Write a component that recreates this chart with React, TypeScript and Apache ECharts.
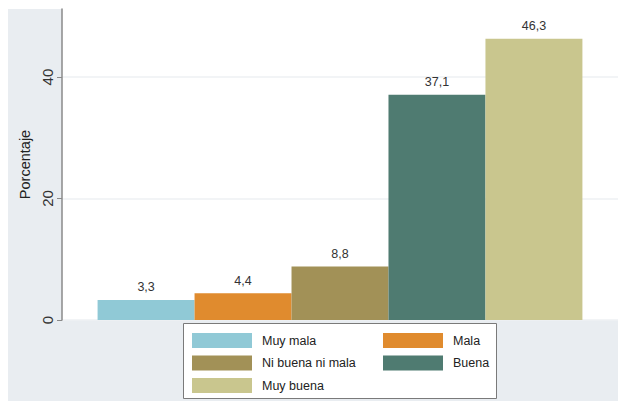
import React, { useEffect, useRef } from "react";
import * as echarts from "echarts";

const categories = ["Muy mala", "Mala", "Ni buena ni mala", "Buena", "Muy buena"];
const values = [3.3, 4.4, 8.8, 37.1, 46.3];
const colors = ["#90c9d6", "#e08b2e", "#a29157", "#4f7b71", "#c9c68e"];
const yTicks = [0, 20, 40];
const legendCol1 = ["Muy mala", "Ni buena ni mala", "Muy buena"];
const legendCol2 = ["Mala", "Buena"];

const FONT = "Liberation Sans, Arial, sans-serif";

export default function App() {
  const ref = useRef<HTMLDivElement>(null);
  useEffect(() => {
    if (!ref.current) return;
    const chart = echarts.init(ref.current, null, { renderer: "svg" });
    const legendBase = {
      orient: "vertical" as const,
      top: 333,
      itemWidth: 60,
      itemHeight: 15,
      itemGap: 7.5,
      padding: 0,
      selectedMode: false,
      icon: "rect",
      textStyle: { fontSize: 12.5, color: "#222", fontFamily: FONT, padding: [0, 0, 0, 5] },
    };
    chart.setOption({
      animation: false,
      backgroundColor: "#e9edf1",
      textStyle: { fontFamily: FONT },
      grid: {
        left: 62,
        top: 9,
        right: 0,
        bottom: 81,
        show: true,
        backgroundColor: "#ffffff",
        borderWidth: 0,
      },
      graphic: [
        { type: "rect", shape: { x: 0, y: 0, width: 618, height: 9 }, style: { fill: "#ffffff" }, silent: true },
        { type: "rect", shape: { x: 0, y: 0, width: 8, height: 401 }, style: { fill: "#ffffff" }, silent: true },
        {
          type: "rect",
          shape: { x: 183.5, y: 323.5, width: 313, height: 75 },
          style: { fill: "#ffffff", stroke: "#7a7a7a", lineWidth: 1 },
          silent: true,
        },
      ],
      legend: [
        { ...legendBase, left: 192, data: legendCol1 },
        { ...legendBase, left: 383, data: legendCol2 },
      ],
      xAxis: {
        type: "category",
        data: [""],
        axisLine: { show: false },
        axisTick: { show: false },
        axisLabel: { show: false },
      },
      yAxis: {
        type: "value",
        min: 0,
        max: 51.2,
        interval: 20,
        name: "Porcentaje",
        nameLocation: "middle",
        nameGap: 29,
        nameTextStyle: { fontSize: 14.5, color: "#222", fontFamily: FONT },
        axisLine: { show: true, lineStyle: { color: "#8a8a8a", width: 1.5 } },
        axisTick: { show: true, length: 5, lineStyle: { color: "#8a8a8a" }, customValues: yTicks },
        axisLabel: {
          rotate: 90,
          margin: 7,
          fontSize: 15,
          color: "#333",
          fontFamily: FONT,
          customValues: yTicks,
        },
        splitLine: { show: true, lineStyle: { color: "#eef0f3", width: 1.5 } },
      },
      series: categories.map((name, i) => ({
        name,
        type: "bar",
        data: [values[i]],
        barGap: "0%",
        barCategoryGap: "12.8%",
        itemStyle: { color: colors[i] },
        label: {
          show: true,
          position: "top",
          distance: 6,
          fontSize: 12.5,
          color: "#333",
          fontFamily: FONT,
          formatter: (p: any) => String(p.value).replace(".", ","),
        },
      })),
    });
    return () => chart.dispose();
  }, []);
  return (
    <div
      ref={ref}
      style={{ position: "fixed", left: 0, top: 0, width: 618, height: 401 }}
    />
  );
}
